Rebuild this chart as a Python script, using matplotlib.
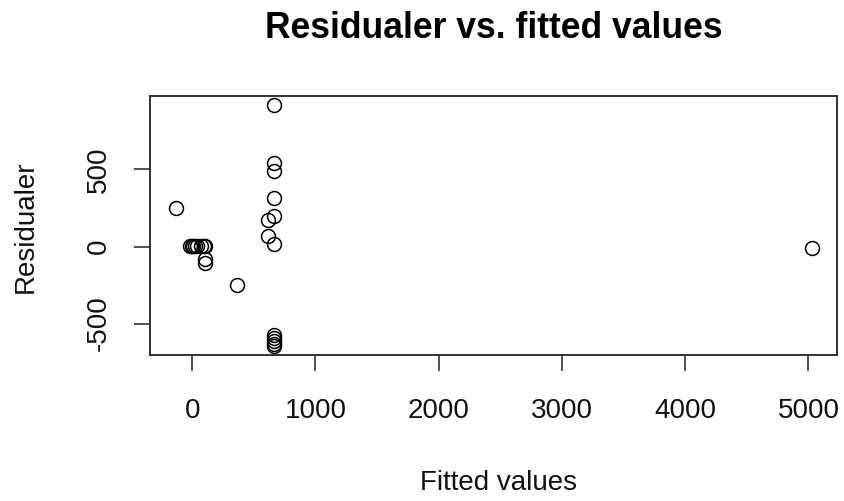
import numpy as np
import matplotlib
matplotlib.use("Agg")
import matplotlib.pyplot as plt

plt.rcParams['font.family'] = ['Liberation Sans', 'DejaVu Sans']
plt.rcParams['axes.unicode_minus'] = False

# fitted values and residuals from the model
fitted = [-136, -20, -5, 5, 20, 40, 70, 95, 105, 104, 104, 364,
          614, 614, 663, 663, 663, 663, 663, 663,
          663, 663, 663, 663, 663, 5026]
resid = [250, 2, 3, 1, 4, 2, 3, 1, 5, -81, -107, -250,
         175, 71, 916, 539, 490, 318, 195, 19,
         -575, -595, -615, -630, -643, -8]

fig = plt.figure(figsize=(8.44, 5.01), dpi=100)
ax = fig.add_axes([150/844, 1 - 355/501, 687/844, 259/501])

ax.plot(fitted, resid, linestyle='none', marker='o', markersize=10,
        markerfacecolor='none', markeredgecolor='black', markeredgewidth=1.1)

ax.set_xlim(-343, 5232)
ax.set_ylim(-704, 977)
ax.set_xticks([0, 1000, 2000, 3000, 4000, 5000])
ax.set_yticks([-500, 0, 500])

for s in ax.spines.values():
    s.set_linewidth(1.3)
    s.set_color('#222222')

ax.tick_params(axis='both', direction='out', length=11.5, width=1.1,
               labelsize=20, color='#222222', labelcolor='#111111')
ax.tick_params(axis='x', pad=19.5)
ax.tick_params(axis='y', pad=16)
for lab in ax.get_yticklabels():
    lab.set_rotation(90)
    lab.set_va('center')
    lab.set_ha('right')

fig.text(493.5/844, 1 - 38/501, 'Residualer vs. fitted values',
         ha='center', va='baseline', fontsize=25.6, fontweight='bold')
fig.text(498/844, 1 - 490/501, 'Fitted values', ha='center', va='baseline',
         fontsize=20, color='#111111')
fig.text(33/844, 1 - 227/501, 'Residualer', ha='center', va='baseline',
         rotation=90, rotation_mode='anchor', fontsize=20, color='#111111')

fig.savefig('out.png', dpi=100)
